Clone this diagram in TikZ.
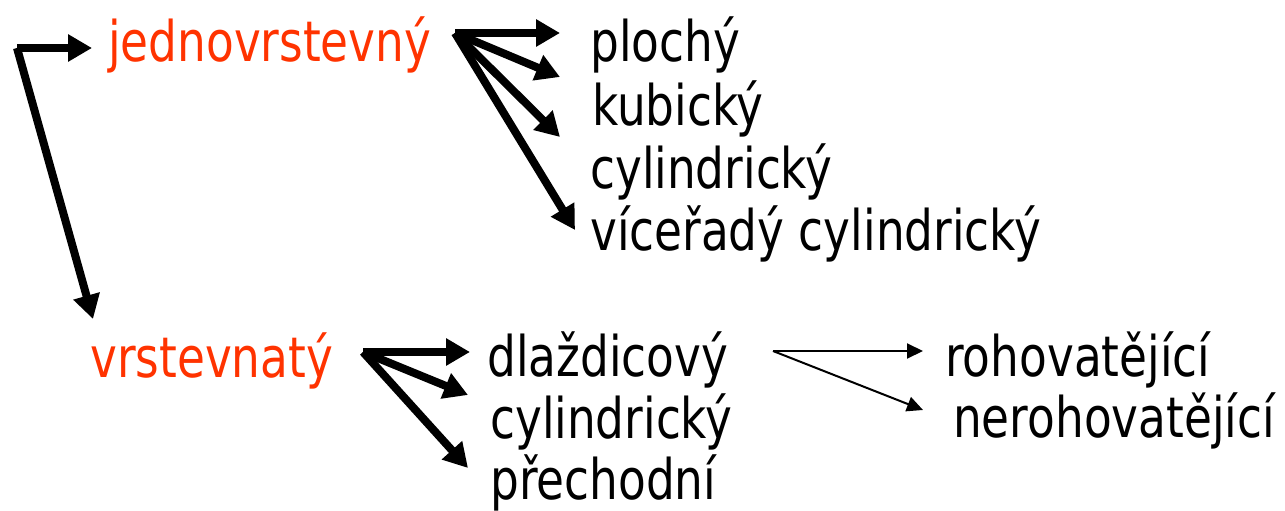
\documentclass[tikz,border=0pt]{standalone}
\usepackage{fontspec}
\setmainfont[FakeStretch=0.81]{DejaVu Sans}
\usetikzlibrary{arrows.meta}
\definecolor{hdr}{RGB}{255,51,0}
\tikzset{
  lbl/.style={anchor=base west, inner sep=0pt, font=\fontsize{56}{60}\selectfont},
  hdrlbl/.style={lbl, text=hdr},
  thick arrow/.style={line width=8pt, -{Triangle[length=24pt,width=26pt]}},
  thin arrow/.style={line width=2pt, -{Triangle[length=16pt,width=15pt]}}
}
\begin{document}
\begin{tikzpicture}[x=1pt,y=-1pt]
\useasboundingbox[fill=white] (0,0) rectangle (1285,511);
% labels
\node[hdrlbl] (jedn) at (108,62) {jednovrstevný};
\node[hdrlbl] (vrst) at (90,377) {vrstevnatý};
\node[lbl] (ploch) at (590,62) {plochý};
\node[lbl] (kub) at (592,125) {kubický};
\node[lbl] (cylA) at (590,188) {cylindrický};
\node[lbl] (vice) at (590,250) {víceřadý cylindrický};
\node[lbl] (dlaz) at (487,376) {dlaždicový};
\node[lbl] (cylB) at (490,438) {cylindrický};
\node[lbl] (prech) at (490,499) {přechodní};
\node[lbl] (roh) at (945,376) {rohovatějící};
\node[lbl] (neroh) at (953,437) {nerohovatějící};
% fan origins
\coordinate (corner) at (17,48);
\coordinate (fanA) at (455,33);
\coordinate (fanB) at (363,352);
\coordinate (fanC) at (773,351);
% connectors
\draw[thick arrow] (corner) -- ([shift={(-16,-14)}]jedn.base west);
\draw[thick arrow] (corner) -- ([shift={(3,-58)}]vrst.base west);
\draw[thick arrow] (fanA) -- ([shift={(-30,-29)}]ploch.base west);
\draw[thick arrow] (fanA) -- ([shift={(-32,-48)}]kub.base west);
\draw[thick arrow] (fanA) -- ([shift={(-30,-51)}]cylA.base west);
\draw[thick arrow] (fanA) -- ([shift={(-15,-20)}]vice.base west);
\draw[thick arrow] (fanB) -- ([shift={(-17,-24)}]dlaz.base west);
\draw[thick arrow] (fanB) -- ([shift={(-22,-43)}]cylB.base west);
\draw[thick arrow] (fanB) -- ([shift={(-22,-31)}]prech.base west);
\draw[thin arrow] (fanC) -- ([shift={(-22,-25)}]roh.base west);
\draw[thin arrow] (fanC) -- ([shift={(-30,-27)}]neroh.base west);
\end{tikzpicture}
\end{document}
